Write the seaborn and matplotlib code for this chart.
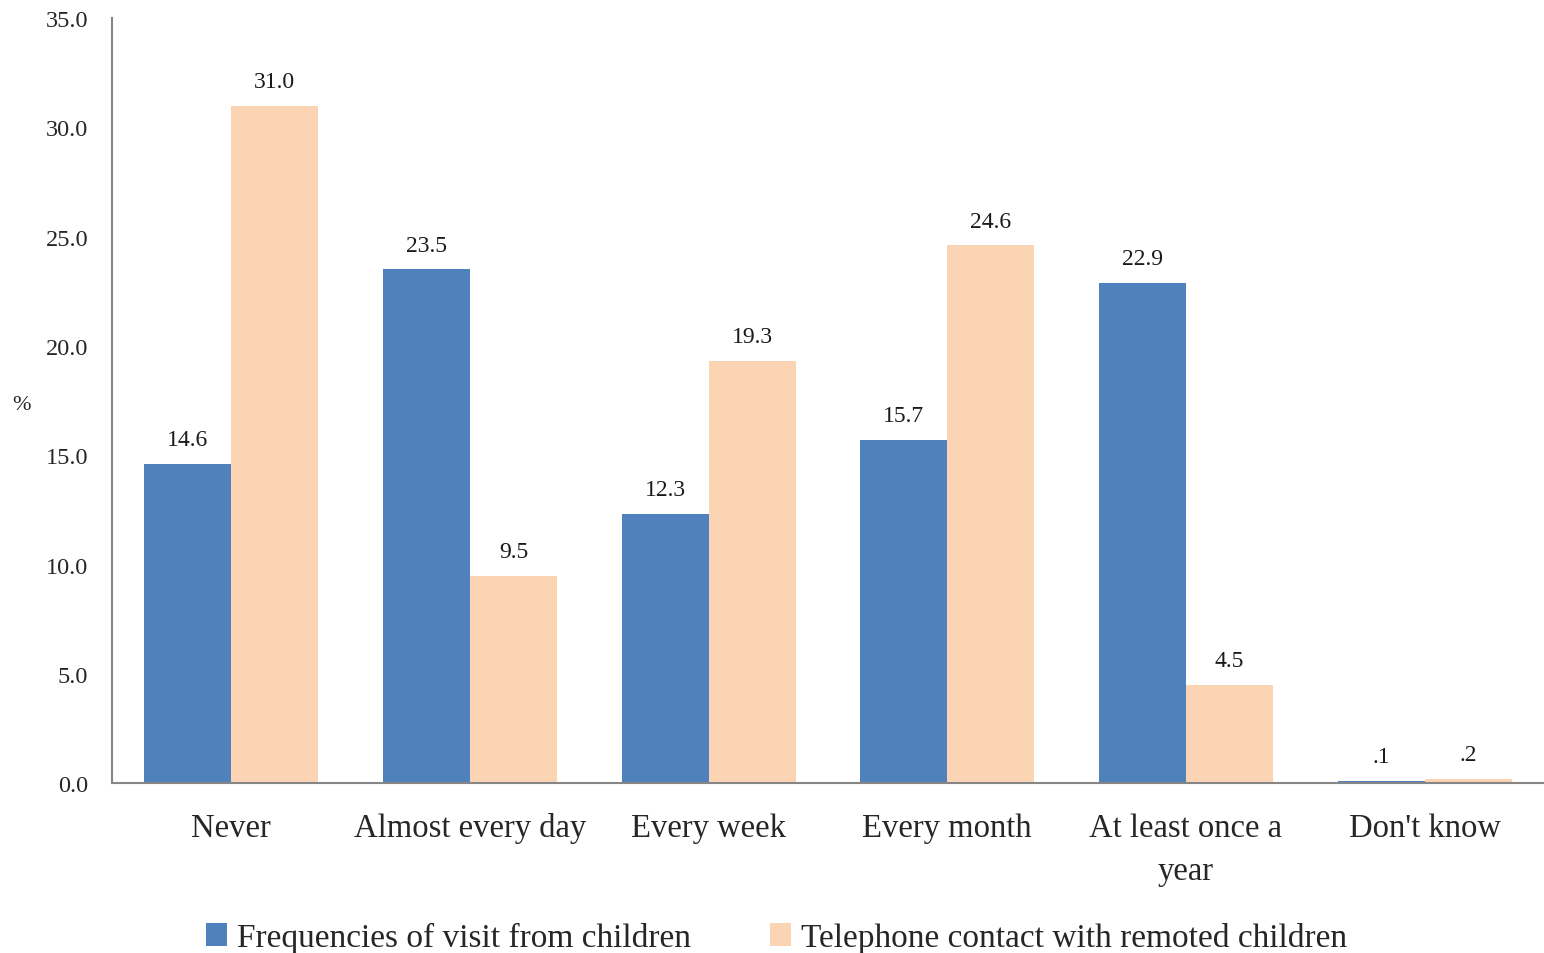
import matplotlib
matplotlib.use("Agg")
import matplotlib.pyplot as plt
import seaborn as sns
import pandas as pd

categories = ["Never", "Almost every day", "Every week", "Every month", "At least once a\nyear", "Don't know"]
visit_values = [14.6, 23.5, 12.3, 15.7, 22.9, 0.1]
phone_values = [31.0, 9.5, 19.3, 24.6, 4.5, 0.2]
visit_labels = ["14.6", "23.5", "12.3", "15.7", "22.9", ".1"]
phone_labels = ["31.0", "9.5", "19.3", "24.6", "4.5", ".2"]
series_names = ["Frequencies of visit from children", "Telephone contact with remoted children"]
y_ticks = [0, 5, 10, 15, 20, 25, 30, 35]

df = pd.DataFrame({
    "category": categories * 2,
    "value": visit_values + phone_values,
    "series": [series_names[0]] * len(categories) + [series_names[1]] * len(categories),
})

sns.set_theme(style="white")
plt.rcParams["font.family"] = ["Liberation Serif", "DejaVu Serif"]

fig = plt.figure(figsize=(15.44, 9.54), dpi=100)
ax = fig.add_axes([0.0725, 0.178, 0.9275, 0.802])

sns.barplot(data=df, x="category", y="value", hue="series", order=categories,
            hue_order=series_names, palette=["#4F81BD", "#FBD4B4"],
            width=0.73, saturation=1, ax=ax, legend=True, linewidth=0)

for cont, labs in zip(ax.containers, [visit_labels, phone_labels]):
    ax.bar_label(cont, labels=labs, padding=10, fontsize=17, color="#1a1a1a")

ax.set_xlim(-0.5, 5.5)
ax.set_ylim(0, 35)
ax.set_yticks(y_ticks)
ax.set_yticklabels([f"{t:.1f}" for t in y_ticks], fontsize=17.5)
ax.tick_params(axis="x", labelsize=23.5, pad=21, length=0)
ax.tick_params(axis="y", length=0, pad=17)
for lab in ax.get_xticklabels():
    lab.set_linespacing(1.55)
ax.set_xlabel("")
ax.set_ylabel("%", rotation=0, fontsize=16, va="center", ha="center")
ax.yaxis.set_label_coords(-0.063, 0.495)

for s in ["top", "right"]:
    ax.spines[s].set_visible(False)
for s in ["left", "bottom"]:
    ax.spines[s].set_color("#868686")
    ax.spines[s].set_linewidth(1.5)

handles, labels = ax.get_legend_handles_labels()
ax.legend_.remove()
fig.legend(handles, labels, loc="center", bbox_to_anchor=(0.503, 0.016), ncol=2,
           frameon=False, fontsize=24, handlelength=0.65, handleheight=0.65,
           handletextpad=0.3, columnspacing=2.35)

fig.savefig("out.png", dpi=100)
